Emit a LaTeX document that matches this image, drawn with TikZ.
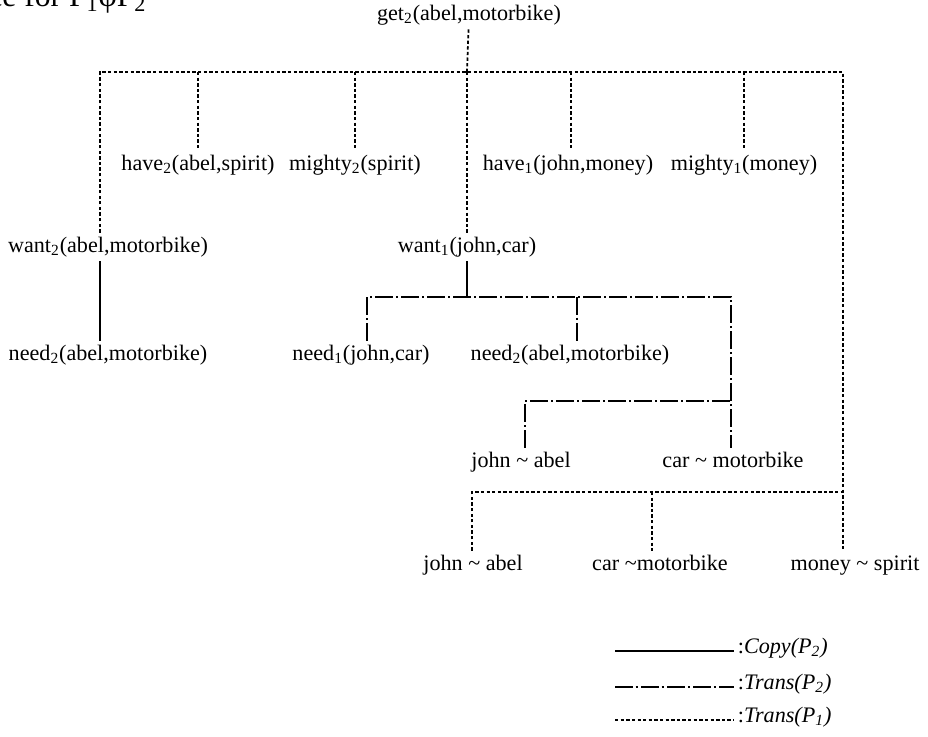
\documentclass[tikz,border=0pt]{standalone}
\usepackage{fontspec}
\setmainfont{Liberation Serif}
\usepackage{tikz}
\usetikzlibrary{positioning}
\tikzstyle{tree} = [x = 0.02cm, y = -0.02cm]
\tikzstyle{termText} = [font=\fontsize{12.6}{15}\selectfont, inner sep=2pt, text height=9pt, text depth=3pt]
\tikzstyle{copyLine} = [color=black, line width=1pt]
\tikzstyle{transOneLine} = [color=black, line width=1pt, dash pattern=on 1.9pt off 1.3pt]
\tikzstyle{transTwoLine} = [color=black, line width=1pt, dash pattern=on 10pt off 1.8pt on 1.2pt off 1.8pt]
\newcommand{\sub}[1]{\textsubscript{#1}}
\newcommand{\branch}[3]{\draw [#1] (#2) -- (#2 |- #3.north);}
\newcommand{\legendEntry}[4]{
  \node [termText, anchor=west] (#2) at (734,#3) {:#4};
  \coordinate (#2Start) at (615,#3 + 3);
  \draw [#1] (#2Start) -- (#2Start -| #2.west);
}

\begin{document}
\begin{tikzpicture}[tree]
  \useasboundingbox (0,0) rectangle (928,736);
  % cut caption line above the tree
  \node [anchor=base west, inner sep=0pt, font=\fontsize{18}{20}\selectfont] (caption) at (-12,7) {ce for P\sub{1}φP\sub{2}};

  % terms
  \node [termText] (get) at (469,15) {get\sub{2}(abel,motorbike)};
  \node [termText] (haveTwo) at (198,165) {have\sub{2}(abel,spirit)};
  \node [termText] (mightyTwo) at (355,165) {mighty\sub{2}(spirit)};
  \node [termText] (haveOne) at (568,165) {have\sub{1}(john,money)};
  \node [termText] (mightyOne) at (744,165) {mighty\sub{1}(money)};
  \node [termText] (wantTwo) at (108,247) {want\sub{2}(abel,motorbike)};
  \node [termText] (wantOne) at (467,247) {want\sub{1}(john,car)};
  \node [termText] (needTwo) at (108,355) {need\sub{2}(abel,motorbike)};
  \node [termText] (needOne) at (361,355) {need\sub{1}(john,car)};
  \node [termText] (needTwoB) at (570,355) {need\sub{2}(abel,motorbike)};
  \node [termText] (johnAbel) at (521,462) {john \textasciitilde{} abel};
  \node [termText] (carMotor) at (733,462) {car \textasciitilde{} motorbike};
  \node [termText] (johnAbelB) at (473,565) {john \textasciitilde{} abel};
  \node [termText] (carMotorB) at (660,565) {car \textasciitilde motorbike};
  \node [termText] (moneySpirit) at (855,565) {money \textasciitilde{} spirit};

  % Trans(P1)
  \coordinate (topBar) at (467,72);
  \coordinate (topLeft) at (100,72);
  \coordinate (topRight) at (843,72);
  \coordinate (lowLeft) at (472,492);
  \coordinate (lowMid) at (652,492);
  \draw [transOneLine] (get) -- (topBar);
  \draw [transOneLine] (topLeft |- wantTwo.north) -- (topLeft) -- (topRight) -- (topRight |- moneySpirit.north);
  \branch{transOneLine}{topBar}{wantOne}
  \branch{transOneLine}{haveTwo.north |- topBar}{haveTwo}
  \branch{transOneLine}{mightyTwo.north |- topBar}{mightyTwo}
  \branch{transOneLine}{571,72}{haveOne}
  \branch{transOneLine}{mightyOne.north |- topBar}{mightyOne}
  \draw [transOneLine] (lowLeft |- johnAbelB.north) -- (lowLeft) -- (topRight |- lowLeft);
  \branch{transOneLine}{lowMid}{carMotorB}

  % Copy(P2)
  \draw [copyLine] (wantTwo.south -| topLeft) -- (needTwo.north -| topLeft);
  \coordinate (midLeft) at (367,297);
  \coordinate (midMid) at (577,297);
  \coordinate (midRight) at (731,297);
  \draw [copyLine] (wantOne) -- (wantOne |- midLeft);

  % Trans(P2)
  \draw [transTwoLine] (midLeft |- needOne.north) -- (midLeft) -- (midRight) -- (midRight |- carMotor.north);
  \branch{transTwoLine}{midMid}{needTwoB}
  \coordinate (lowerLeft) at (525,401);
  \draw [transTwoLine] (lowerLeft |- johnAbel.north) -- (lowerLeft) -- (midRight |- lowerLeft);

  % legend
  \legendEntry{copyLine}{legCopy}{648}{\textit{Copy(P\sub{2})}}
  \legendEntry{transTwoLine}{legTransTwo}{684}{\textit{Trans(P\sub{2})}}
  \legendEntry{transOneLine}{legTransOne}{717}{\textit{Trans(P\sub{1})}}
\end{tikzpicture}
\end{document}
